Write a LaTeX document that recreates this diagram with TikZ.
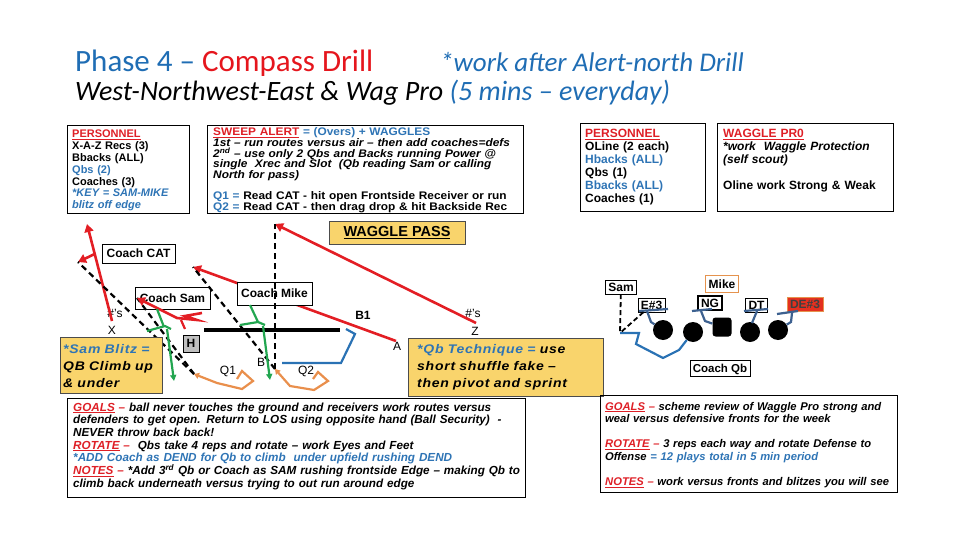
\documentclass[tikz,border=0pt]{standalone}
\usepackage{fontspec}
\setmainfont{Liberation Sans}
\newfontfamily\calfont{Carlito}
\newfontfamily\spacedfont{Liberation Sans}[LetterSpace=6, FakeStretch=1.12]
\newfontfamily\widesans{Liberation Sans}[FakeStretch=1.08]
\usetikzlibrary{arrows.meta}
\definecolor{headblue}{HTML}{1F6DB4}
\definecolor{headred}{HTML}{E5161D}
\definecolor{noteblue}{HTML}{2E74B5}
\definecolor{notered}{HTML}{DE1F26}
\definecolor{padyellow}{HTML}{F9D46C}
\definecolor{runred}{HTML}{E31E24}
\definecolor{blockgreen}{HTML}{22A650}
\definecolor{droporange}{HTML}{E98F4C}
\definecolor{routeblue}{HTML}{2A72B4}
\definecolor{olblue}{HTML}{3D6190}
\definecolor{mikeorange}{HTML}{E5934E}
\definecolor{defred}{HTML}{E4301F}
\definecolor{hgray}{HTML}{BFBFBF}

\begin{document}
\begin{tikzpicture}[x=1pt, y=-1pt,
  notetext/.style={anchor=base west, inner sep=0pt, align=left, execute at begin node={\lineskiplimit=-20pt\selectfont}},
  namebox/.style={draw, fill=white, inner sep=3pt, font={\bfseries\fontsize{12}{12}\selectfont}},
  smallbox/.style={draw, fill=white, inner xsep=3pt, inner ysep=2pt, text height=9pt, text depth=1pt, font={\bfseries\fontsize{12}{12}\selectfont}},
  spot/.style={inner sep=0pt, font={\fontsize{12}{12}\selectfont}},
  yelbox/.style={draw=black!70, fill=padyellow},
  redrun/.style={draw=runred, line width=2.6pt, -{Triangle[length=8pt,width=9pt]}},
  readline/.style={draw=black, line width=2.2pt, dash pattern=on 6pt off 4pt},
  greenblk/.style={draw=blockgreen, line width=2.2pt},
  droproute/.style={draw=droporange, line width=2.2pt, -{Triangle[length=5pt,width=6pt]}},
  backroute/.style={draw=routeblue, line width=2.2pt},
  olblock/.style={draw=olblue, line width=2.2pt},
  lineman/.style={circle, fill=black, minimum size=20pt, inner sep=0pt}]

\useasboundingbox (0,0) rectangle (960,540);

\node (phase) at (75,72) [notetext, font={\calfont\fontsize{31}{31}\selectfont}] {\textcolor{headblue}{Phase 4 –} \textcolor{headred}{Compass Drill}};
\node (after) at (440,72) [notetext, text=headblue, font={\calfont\itshape\fontsize{27}{27}\selectfont}] {*work after Alert-north Drill};
\node (west) at (75,101) [notetext, font={\calfont\itshape\fontsize{28}{28}\selectfont}] {West-Northwest-East \& Wag Pro \textcolor{headblue}{(5 mins – everyday)}};

\draw (67,125) rectangle (189,213);
\node (pers) at (72,138) [notetext, text width=140pt, font={\bfseries\fontsize{11}{11.8}\selectfont}] {\textcolor{notered}{\underline{PERSONNEL}}\\
X-A-Z Recs (3)\\
Bbacks (ALL)\\
\textcolor{noteblue}{Qbs (2)}\\
Coaches (3)\\
\textcolor{noteblue}{\itshape *KEY = SAM-MIKE}\\
\textcolor{noteblue}{\itshape blitz off edge}};

\draw (207,125) rectangle (523,213);
\node (sweep) at (213,135.5) [notetext, text width=330pt, font={\widesans\bfseries\fontsize{11}{10.8}\selectfont}] {\textcolor{notered}{\underline{SWEEP ALERT}} \textcolor{noteblue}{= (Overs) + WAGGLES}\\
{\itshape 1st – run routes versus air – then add coaches=defs\\
2\textsuperscript{nd} – use only 2 Qbs and Backs running Power @\\
single\ \ Xrec and Slot\ \ (Qb reading Sam or calling\\
North for pass)}\\[9.7pt]
\textcolor{noteblue}{Q1 =} Read CAT - hit open Frontside Receiver or run\\
\textcolor{noteblue}{Q2 =} Read CAT - then drag drop \& hit Backside Rec};

\draw (580,123) rectangle (705,211);
\node (pers2) at (585,138) [notetext, text width=140pt, font={\bfseries\fontsize{12}{13}\selectfont}] {\textcolor{notered}{\underline{PERSONNEL}}\\
OLine (2 each)\\
\textcolor{noteblue}{Hbacks (ALL)}\\
Qbs (1)\\
\textcolor{noteblue}{Bbacks (ALL)}\\
Coaches (1)};

\draw (717,123) rectangle (893,211);
\node (wagpro) at (723,138) [notetext, text width=190pt, font={\bfseries\fontsize{12}{13}\selectfont}] {\textcolor{notered}{\underline{WAGGLE PR0}}\\
{\itshape *work\ \ Waggle Protection\\
(self scout)}\\[13pt]
Oline work Strong \& Weak};

\node (wagpass) at (397,232.5) [yelbox, minimum width=136pt, minimum height=23pt, font={\bfseries\fontsize{14.5}{14.5}\selectfont}] {\underline{WAGGLE PASS}};

\node (xnum) at (115,313.5) [spot] {\#'s};
\node (xrec) at (112,330) [spot] {X};
\node (bnum) at (363,315) [spot, font={\bfseries\fontsize{12}{12}\selectfont}] {B1};
\node (arec) at (397,346) [spot] {A};
\node (znum) at (473,313.5) [spot] {\#'s};
\node (zrec) at (475,331.5) [spot] {Z};
\node (brec) at (261,362) [spot] {B};
\node (qone) at (228,371) [spot] {Q1};
\node (qtwo) at (306,371) [spot] {Q2};

\coordinate (xstart) at (112,321);
\coordinate (xtop) at (87,224);
\coordinate (xbreak) at (94.7,254);
\coordinate (xcut) at (78,262);
\coordinate (qb1) at (194,374);
\coordinate (samtip) at (137,298);
\coordinate (samblz) at (202,313);
\coordinate (mtip) at (193,267);
\coordinate (aspot) at (396,341);
\coordinate (ztip) at (275,224);
\coordinate (zspot) at (476,323);
\coordinate (qb2) at (275,369);
\coordinate (bstart) at (282,363);
\coordinate (losl) at (204,330);
\coordinate (losr) at (340,330);

\draw[redrun] (xstart) -- (xtop);
\draw[redrun] (xbreak) -- (xcut);
\draw[redrun] (aspot) -- (mtip);
\draw[redrun] (zspot) -- (ztip);

\node (cat) at (138.5,253.5) [namebox, minimum width=73pt, minimum height=19pt] {Coach CAT};
\node (sam) at (172.5,298) [namebox, minimum width=75pt, minimum height=22pt] {Coach Sam};
\node (mike) at (274.5,293.5) [namebox, minimum width=75pt, minimum height=23pt] {Coach Mike};

\draw[line width=4.5pt] (losl) -- (losr);

\draw[readline] (qb1) -- (xcut);
\draw[readline] (qb1) -- (samtip);
\draw[readline] (qb2) -- (mtip);
\draw[readline] (qb2) -- (ztip);

\draw[redrun] (samblz) -- (185,316) -- (197,320) -- (177,318) -- (samtip);
\draw[draw=runred, line width=2.2pt] (181,320) -- (185,329);

\draw[greenblk] (157,309) -- (164,327);
\draw[greenblk] (147,331) -- (165,326) -- (171,329);
\draw[greenblk, -{Triangle[length=6pt,width=6pt]}] (167,329) -- (174,381);
\draw[greenblk] (250,305) -- (258,322);
\draw[greenblk] (240,325) -- (258,322) -- (265,325);
\draw[greenblk, -{Triangle[length=6pt,width=6pt]}] (263,326) -- (270,380);

\node (hback) at (191,343.5) [draw, fill=hgray, minimum width=16pt, minimum height=17pt, inner sep=0pt, font={\bfseries\fontsize{12}{12}\selectfont}] {H};

\draw[droproute] (237,379) -- (242,371) -- (253,381) -- (242,389) -- (217,383) -- (qb1);
\draw[droproute] (313,379) -- (318,372) -- (328,381) -- (314,390) -- (290,386) -- (qb2);
\draw[backroute] (bstart) -- (341,363) -- (355,334) -- (346,329);

\filldraw[yelbox] (60,337) rectangle (162,393);
\node (samblitz) at (63,353) [notetext, text width=110pt, font={\spacedfont\bfseries\itshape\fontsize{12.5}{17}\selectfont}] {\textcolor{noteblue}{*Sam Blitz =}\\
QB Climb up\\
\& under};

\filldraw[yelbox] (408,338) rectangle (603,396);
\node (qbtech) at (417,353) [notetext, text width=200pt, font={\spacedfont\bfseries\itshape\fontsize{12.5}{17}\selectfont}] {\textcolor{noteblue}{*Qb Technique =} use\\
short shuffle fake –\\
then pivot and sprint};

\node (rsam) at (621,287) [smallbox] {Sam};
\node (rmike) at (722,284) [smallbox, draw=mikeorange, line width=1.5pt, minimum height=17pt] {Mike};
\node (e3) at (651.5,305) [smallbox] {E\#3};
\node (ng) at (710,303) [smallbox, line width=1.5pt] {NG};
\node (dt) at (756.5,305) [smallbox] {DT};
\node (de3) at (805,304) [smallbox, fill=defred, draw=mikeorange, line width=1pt, text=black!75] {DE\#3};

\node (lt) at (663,330) [lineman] {};
\node (lg) at (693,332) [lineman] {};
\node (ctr) at (722,327) [lineman, rectangle, rounded corners=3pt, minimum size=19pt] {};
\node (rg) at (750,332) [lineman] {};
\node (rt) at (778,330) [lineman] {};

\coordinate (qbend) at (620,333);

\draw[olblock] (lt) -- (651,322) -- (647,311);
\draw[olblock] (639,311) -- (668,309);
\draw[olblock] (ctr) -- (705,321) -- (701,311);
\draw[olblock] (692,311) -- (712,309);
\draw[olblock] (rg) -- (752,323) -- (757,311);
\draw[olblock] (744,311) -- (768,309);
\draw[olblock] (rt) -- (791,322) -- (792,313);
\draw[olblock] (777,314) -- (798,311);

\draw[backroute] (lg) -- (679,350) -- (663,358) -- (636,344) -- (639,333) -- (qbend);
\draw[readline, line width=1.8pt, dash pattern=on 5pt off 3pt] (rsam) -- (qbend);
\draw[readline, line width=1.8pt, dash pattern=on 5pt off 3pt] (e3) -- (qbend);

\node (cqb) at (720,368) [smallbox, minimum width=60pt, minimum height=16pt, font={\bfseries\fontsize{11.5}{11.5}\selectfont}] {Coach Qb};

\draw (67,398) rectangle (525,497);
\node (goals1) at (73,411) [notetext, text width=470pt, font={\bfseries\itshape\fontsize{11.7}{12.7}\selectfont}] {\textcolor{notered}{\underline{GOALS} –} ball never touches the ground and receivers work routes versus\\
defenders to get open. Return to LOS using opposite hand (Ball Security)\ \ -\\
NEVER throw back back!\\
\textcolor{notered}{\underline{ROTATE} –}\ \ Qbs take 4 reps and rotate – work Eyes and Feet\\
\textcolor{noteblue}{*ADD Coach as DEND for Qb to climb\ \ under upfield rushing DEND}\\
\textcolor{notered}{\underline{NOTES} –} *Add 3\textsuperscript{rd} Qb or Coach as SAM rushing frontside Edge – making Qb to\\
climb back underneath versus trying to out run around edge};

\draw (600,395) rectangle (897,492);
\node (goals2) at (605,410) [notetext, text width=320pt, font={\bfseries\itshape\fontsize{11.2}{12.8}\selectfont}] {\textcolor{notered}{\underline{GOALS} –} scheme review of Waggle Pro strong and\\
weal versus defensive fronts for the week\\[12pt]
\textcolor{notered}{\underline{ROTATE} –} 3 reps each way and rotate Defense to\\
Offense \textcolor{noteblue}{= 12 plays total in 5 min period}\\[12pt]
\textcolor{notered}{\underline{NOTES} –} work versus fronts and blitzes you will see};

\end{tikzpicture}
\end{document}
